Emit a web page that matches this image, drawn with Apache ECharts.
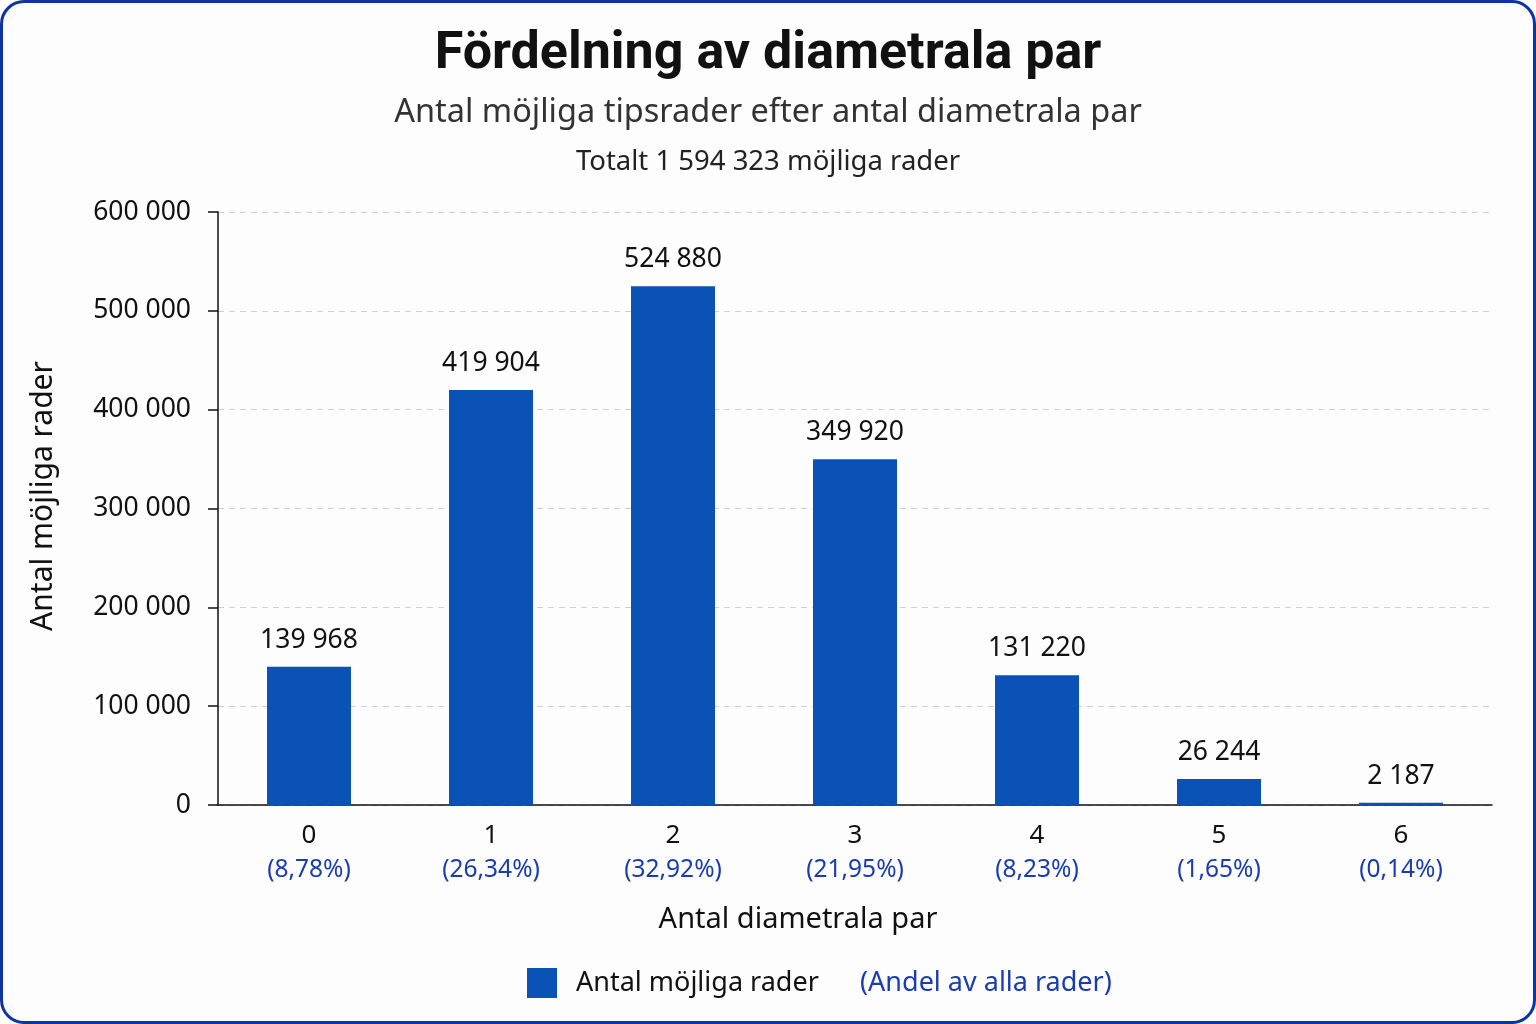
<!DOCTYPE html>
<html>
<head>
<meta charset="utf-8">
<script src="https://cdn.jsdelivr.net/npm/echarts@6/dist/echarts.min.js"></script>
<style>
  html, body { margin: 0; padding: 0; background: #fff; }
  #wrap {
    position: absolute; left: 0; top: 0;
    width: 1530px; height: 1018px;
    border: 3px solid #0d33a6; border-radius: 24px;
    background: #fdfdfd; overflow: hidden;
  }
  #chart { width: 1530px; height: 1018px; }
</style>
</head>
<body>
<div id="wrap"><div id="chart"></div></div>
<script>
// data
var categories = ['0', '1', '2', '3', '4', '5', '6'];
var counts = [139968, 419904, 524880, 349920, 131220, 26244, 2187];
var shares = ['8,78%', '26,34%', '32,92%', '21,95%', '8,23%', '1,65%', '0,14%'];
var yTicks = [0, 100000, 200000, 300000, 400000, 500000, 600000];

var BLUE = '#0a52b5';
var TXTBLUE = '#1a3cb0';
var FONT = 'Noto Sans';

function fmt(v) {
  return String(v).replace(/\B(?=(\d{3})+(?!\d))/g, ' ');
}

var myChart = echarts.init(document.getElementById('chart'));

var option = {
  animation: false,
  textStyle: { fontFamily: FONT },
  title: [
    {
      text: 'Fördelning av diametrala par',
      left: 'center', top: 21,
      textStyle: { fontFamily: 'Liberation Sans Narrow, Roboto', fontWeight: 'bold', fontSize: 52, color: '#111' }
    },
    {
      text: 'Antal möjliga tipsrader efter antal diametrala par',
      left: 'center', top: 88,
      textStyle: { fontFamily: FONT, fontWeight: 'normal', fontSize: 32.5, color: '#333' }
    },
    {
      text: 'Totalt 1 594 323 möjliga rader',
      left: 'center', top: 140,
      textStyle: { fontFamily: FONT, fontWeight: 'normal', fontSize: 27.5, color: '#222' }
    }
  ],
  grid: { left: 215, right: 41, top: 209, bottom: 216, containLabel: false },
  legend: {
    data: ['Antal möjliga rader'],
    left: 519, top: 960,
    itemWidth: 30, itemHeight: 30, itemGap: 20,
    icon: 'rect',
    textStyle: { fontFamily: FONT, fontSize: 27, color: '#111', padding: [0, 0, 0, 14] }
  },
  graphic: [
    {
      type: 'text', left: 857, top: 967,
      style: { text: '(Andel av alla rader)', fontFamily: FONT, fontSize: 27, fill: TXTBLUE }
    },
    {
      type: 'text', x: 40, y: 493, rotation: Math.PI / 2,
      style: {
        text: 'Antal möjliga rader', fontFamily: FONT, fontSize: 30, fill: '#111',
        align: 'center', verticalAlign: 'middle'
      }
    }
  ],
  xAxis: {
    type: 'category',
    data: categories,
    name: 'Antal diametrala par',
    nameLocation: 'middle',
    nameGap: 100,
    nameTextStyle: { fontFamily: FONT, fontSize: 29, color: '#111', padding: [0, 114, 0, 0] },
    axisLine: { lineStyle: { color: '#111', width: 1.5 } },
    axisTick: { show: false },
    axisLabel: {
      interval: 0,
      margin: 14,
      formatter: function (v, i) { return v + '\n{p|(' + shares[i] + ')}'; },
      fontFamily: FONT, fontSize: 26, color: '#111', lineHeight: 34,
      rich: { p: { fontFamily: FONT, fontSize: 24.5, color: TXTBLUE, lineHeight: 35 } }
    }
  },
  yAxis: {
    type: 'value',
    min: yTicks[0], max: yTicks[yTicks.length - 1], interval: 100000,
    axisLine: { show: true, lineStyle: { color: '#111', width: 1.5 } },
    axisTick: { show: true, length: 10, lineStyle: { color: '#111', width: 1.5 } },
    axisLabel: {
      margin: 27,
      formatter: fmt,
      fontFamily: FONT, fontSize: 26.5, color: '#111'
    },
    splitLine: { lineStyle: { color: '#d0d0d0', type: [6, 5], width: 1 } }
  },
  series: [
    {
      name: 'Antal möjliga rader',
      type: 'bar',
      data: counts,
      barWidth: 84,
      itemStyle: { color: BLUE },
      label: {
        show: true, position: 'top', distance: 13,
        formatter: function (p) { return fmt(p.value); },
        fontFamily: FONT, fontSize: 26.5, color: '#111'
      }
    }
  ]
};

myChart.setOption(option);
</script>
</body>
</html>
